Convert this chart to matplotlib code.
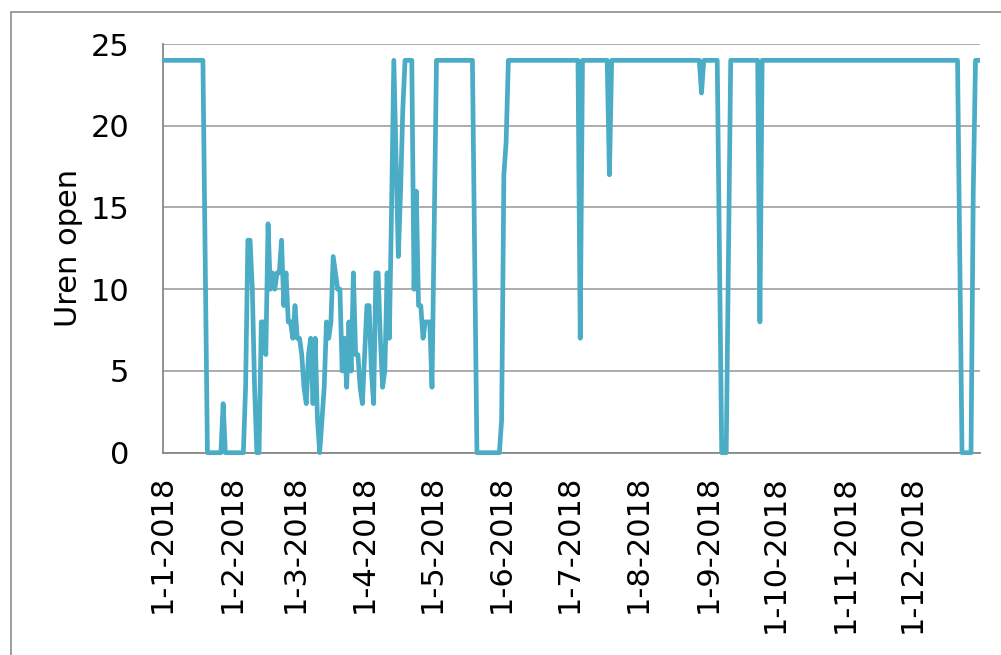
import matplotlib
matplotlib.use("Agg")
import matplotlib.pyplot as plt
from matplotlib.patches import Rectangle
import numpy as np

# Daily "Uren open" values per month (2018)
jan = [24, 24, 24, 24, 24, 24, 24, 24, 24, 24, 24, 24, 24, 24, 24, 24, 24, 24, 24,
       12, 0, 0, 0, 0, 0, 0, 0, 3, 0, 0, 0]
feb = [0, 0, 0, 0, 0, 0, 4, 13, 13, 10, 4, 0, 0, 8, 8, 6, 14, 10, 11, 10, 11, 11,
       13, 9, 11, 8, 8, 7]
mar = [9, 7, 7, 6, 4, 3, 6, 7, 3, 7, 2, 0, 2, 4, 8, 7, 8, 12, 11, 10, 10, 5, 7, 4,
       8, 5, 11, 6, 6, 4, 3]
apr = [6, 9, 9, 5, 3, 11, 11, 7, 4, 5, 11, 7, 15, 24, 18, 12, 16, 21, 24, 24, 24,
       24, 10, 16, 9, 9, 7, 8, 8, 8]
may = [4, 14, 24, 24, 24, 24, 24, 24, 24, 24, 24, 24, 24, 24, 24, 24, 24, 24, 24,
       12, 0, 0, 0, 0, 0, 0, 0, 0, 0, 0, 0]
jun = [2, 17, 19, 24, 24, 24, 24, 24, 24, 24, 24, 24, 24, 24, 24, 24, 24, 24, 24,
       24, 24, 24, 24, 24, 24, 24, 24, 24, 24, 24]
jul = [24, 24, 24, 24, 24, 7, 24, 24, 24, 24, 24, 24, 24, 24, 24, 24, 24, 24, 17,
       24, 24, 24, 24, 24, 24, 24, 24, 24, 24, 24, 24]
aug = [24, 24, 24, 24, 24, 24, 24, 24, 24, 24, 24, 24, 24, 24, 24, 24, 24, 24, 24,
       24, 24, 24, 24, 24, 24, 24, 24, 24, 22, 24, 24]
sep = [24, 24, 24, 24, 24, 12, 0, 0, 0, 12, 24, 24, 24, 24, 24, 24, 24, 24, 24,
       24, 24, 24, 24, 8, 24, 24, 24, 24, 24, 24]
oct_ = [24, 24, 24, 24, 24, 24, 24, 24, 24, 24, 24, 24, 24, 24, 24, 24, 24, 24, 24,
        24, 24, 24, 24, 24, 24, 24, 24, 24, 24, 24, 24]
nov = [24, 24, 24, 24, 24, 24, 24, 24, 24, 24, 24, 24, 24, 24, 24, 24, 24, 24, 24,
       24, 24, 24, 24, 24, 24, 24, 24, 24, 24, 24]
dec = [24, 24, 24, 24, 24, 24, 24, 24, 24, 24, 24, 24, 24, 24, 24, 24, 24, 24, 24,
       24, 24, 12, 0, 0, 0, 0, 0, 16, 24, 24, 24]

months = [jan, feb, mar, apr, may, jun, jul, aug, sep, oct_, nov, dec]
month_labels = ["1-1-2018", "1-2-2018", "1-3-2018", "1-4-2018", "1-5-2018",
                "1-6-2018", "1-7-2018", "1-8-2018", "1-9-2018", "1-10-2018",
                "1-11-2018", "1-12-2018"]
y_ticks = [0, 5, 10, 15, 20, 25]
y_label = "Uren open"

values = np.concatenate([np.array(m, dtype=float) for m in months])
days = np.arange(len(values))
month_starts = np.concatenate([[0], np.cumsum([len(m) for m in months])[:-1]])

W, H = 1001, 655
fig = plt.figure(figsize=(W / 100, H / 100), dpi=100)
plt.rcParams['font.family'] = ['DejaVu Sans']

left, right, top, bottom = 162.5, 980, 44, 452.7
ax = fig.add_axes([left / W, 1 - bottom / H, (right - left) / W, (bottom - top) / H])

line_color = "#4BACC6"
ax.plot(days, values, color=line_color, lw=3.4, solid_joinstyle="round",
        solid_capstyle="butt", zorder=3, clip_on=False)

ax.set_xlim(0, len(values) - 1)
ax.set_ylim(0, 25)
ax.set_yticks(y_ticks)
ax.set_yticklabels([str(v) for v in y_ticks], fontsize=22)
ax.set_xticks(month_starts)
ax.set_xticklabels(month_labels, rotation=90, fontsize=22)
ax.tick_params(axis="both", length=0)
ax.tick_params(axis="y", pad=24)
ax.tick_params(axis="x", pad=16)
ax.set_ylabel(y_label, fontsize=22, labelpad=8)
ax.yaxis.set_label_coords((83 - left) / (right - left), 0.5)

ax.grid(axis="y", color="#a6a6a6", lw=1.3, zorder=1)
ax.set_axisbelow(True)
for s in ["top", "right"]:
    ax.spines[s].set_visible(False)
for s in ["left", "bottom"]:
    ax.spines[s].set_color("#888888")
    ax.spines[s].set_linewidth(1.3)
ax.spines["bottom"].set_zorder(2)

# outer chart-area border
fig.patches.append(Rectangle((11 / W, -0.2), 2.0, (1 - 12 / H) + 0.2,
                             transform=fig.transFigure, fill=False,
                             edgecolor="#8c8c8c", lw=1.2, zorder=0))

fig.savefig("out.png", dpi=100)
